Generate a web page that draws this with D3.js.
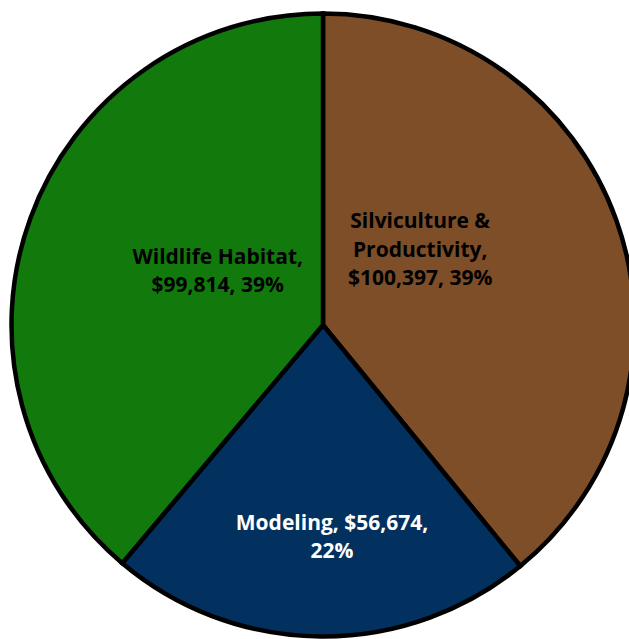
<!DOCTYPE html>
<html>
<head>
<meta charset="utf-8">
<script src="https://cdn.jsdelivr.net/npm/d3@7"></script>
<style>
  html, body { margin: 0; padding: 0; background: #fff; overflow: hidden; }
  svg { display: block; }
</style>
</head>
<body>
<svg id="chart" width="629" height="639"></svg>
<script>
// Budget by research area
const categories = ["Silviculture & Productivity", "Modeling", "Wildlife Habitat"];
const amounts = [100397, 56674, 99814];
const colors = ["#7d4e28", "#02315f", "#127a0c"];
const textColors = ["#000000", "#ffffff", "#000000"];
// Label text broken into lines
const labelLines = [
  ["Silviculture &", "Productivity,", "$100,397, 39%"],
  ["Modeling, $56,674,", "22%"],
  ["Wildlife Habitat,", "$99,814, 39%"]
];
// Label anchor offsets from the pie centre, as fractions of the radius
const labelOffsets = [[0.312, -0.241], [0.029, 0.681], [-0.338, -0.173]];

const svg = d3.select("#chart");
const cx = 323, cy = 325, r = 311.5;

const pie = d3.pie().sort(null).value(d => d)(amounts);
const arc = d3.arc().innerRadius(0).outerRadius(r);

const g = svg.append("g").attr("transform", `translate(${cx},${cy})`);

g.selectAll("path.slice")
  .data(pie)
  .join("path")
  .attr("class", "slice")
  .attr("d", arc)
  .attr("fill", (d, i) => colors[i])
  .attr("stroke", "#000")
  .attr("stroke-width", 4.5)
  .attr("stroke-linejoin", "miter");

const lineH = 28.5;
const labels = g.selectAll("text.lbl")
  .data(pie)
  .join("text")
  .attr("class", "lbl")
  .attr("text-anchor", "middle")
  .attr("font-family", "'Open Sans', sans-serif")
  .attr("font-weight", 700)
  .attr("font-size", 21)
  .attr("fill", (d, i) => textColors[i])
  .attr("transform", (d, i) => `translate(${labelOffsets[i][0] * r},${labelOffsets[i][1] * r})`);

labels.each(function(d, i) {
  const lines = labelLines[i];
  const t = d3.select(this);
  const start = -((lines.length - 1) * lineH) / 2 + 7;
  lines.forEach((ln, k) => {
    t.append("tspan").attr("x", 0).attr("y", start + k * lineH).text(ln);
  });
});
</script>
</body>
</html>
